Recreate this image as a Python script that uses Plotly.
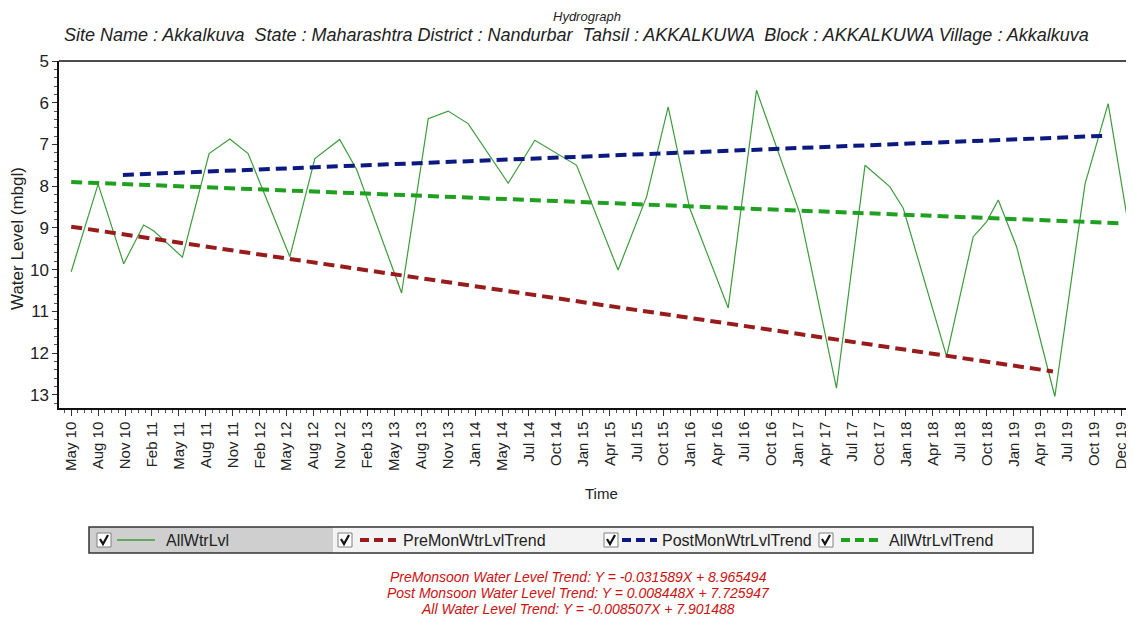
import plotly.graph_objects as go

# ---------------- data ----------------
tick_labels = ["May 10", "Aug 10", "Nov 10", "Feb 11", "May 11", "Aug 11", "Nov 11", "Feb 12",
               "May 12", "Aug 12", "Nov 12", "Feb 13", "May 13", "Aug 13", "Nov 13", "Jan 14",
               "May 14", "Jul 14", "Oct 14", "Jan 15", "Apr 15", "Jul 15", "Oct 15", "Jan 16",
               "Apr 16", "Jul 16", "Oct 16", "Jan 17", "Apr 17", "Jul 17", "Oct 17", "Jan 18",
               "Apr 18", "Jul 18", "Oct 18", "Jan 19", "Apr 19", "Jul 19", "Oct 19", "Dec 19"]

# observed water level (x in tick-period units, y in m bgl)
all_x = [0.00, 1.00, 1.95, 2.69, 3.06, 4.13, 5.12, 5.89, 6.57, 8.12, 9.05, 9.97, 10.6,
         12.27, 13.26, 14.0, 14.74, 16.23, 17.22, 18.77, 20.31, 21.37, 22.17, 22.97, 24.4,
         25.45, 27.06, 28.42, 29.48, 30.4, 30.9, 32.51, 33.5, 34.0, 34.43, 35.11, 36.53,
         37.65, 38.51, 39.19]
all_y = [10.05, 7.95, 9.86, 8.93, 9.07, 9.70, 7.22, 6.87, 7.22, 9.69, 7.34, 6.88, 7.6,
         10.56, 6.38, 6.20, 6.50, 7.93, 6.90, 7.50, 10.01, 8.25, 6.10, 8.53, 10.92,
         5.70, 8.65, 12.84, 7.50, 8.01, 8.53, 12.08, 9.21, 8.85, 8.33, 9.45, 13.04,
         7.95, 6.02, 8.65]

pre_x = [0.0, 36.46]
pre_y = [8.97, 12.44]
post_x = [1.92, 38.5]
post_y = [7.73, 6.79]
alltr_x = [0.0, 39.06]
alltr_y = [7.90, 8.89]

series_names = ["AllWtrLvl", "PreMonWtrLvlTrend", "PostMonWtrLvlTrend", "AllWtrLvlTrend"]
eq_lines = ["PreMonsoon Water Level Trend: Y = -0.031589X + 8.965494",
            "Post Monsoon Water Level Trend: Y = 0.008448X + 7.725947",
            "All Water Level Trend: Y = -0.008507X + 7.901488"]

# ---------------- styling ----------------
OFF = 8                      # page body margin of the html page
W, H = 1134 - OFF, 627 - OFF
PL, PT, PR, PB = 59, 61, 1134, 408   # plot area in window pixels
ML, MT = PL - OFF, PT - OFF
MR = (1134 - OFF) - (PR - OFF)
MB = H - (PB - OFF)
PW, PH = W - ML - MR, H - MT - MB

def px(x):
    return (x - OFF - ML) / PW

def py(y):
    return (H - MB - (y - OFF)) / PH

C_ALL = "#3c9c3c"
C_PRE = "#981c1c"
C_POST = "#0c1a80"
C_ALLTR = "#20a020"
FONT = "Liberation Sans"
DASH = "11px,6px"

fig = go.Figure()
fig.add_trace(go.Scatter(x=all_x, y=all_y, mode="lines", name=series_names[0],
                         line=dict(color=C_ALL, width=1.2)))
fig.add_trace(go.Scatter(x=pre_x, y=pre_y, mode="lines", name=series_names[1],
                         line=dict(color=C_PRE, width=4, dash=DASH)))
fig.add_trace(go.Scatter(x=post_x, y=post_y, mode="lines", name=series_names[2],
                         line=dict(color=C_POST, width=4, dash=DASH)))
fig.add_trace(go.Scatter(x=alltr_x, y=alltr_y, mode="lines", name=series_names[3],
                         line=dict(color=C_ALLTR, width=4, dash=DASH)))

fig.update_layout(
    width=W, height=H,
    margin=dict(l=ML, r=MR, t=MT, b=MB, pad=0, autoexpand=False),
    paper_bgcolor="white", plot_bgcolor="white",
    showlegend=False,
    font=dict(family=FONT, color="#222222"),
)

fig.update_xaxes(
    automargin=False,
    range=[-0.453, 39.47], tickmode="array", tickvals=list(range(len(tick_labels))),
    ticktext=tick_labels, tickangle=-90, tickfont=dict(size=15, color="#222"),
    showgrid=False, zeroline=False, showline=True, linecolor="#111", linewidth=1.5,
    ticks="outside", ticklen=6, tickcolor="#333",
    minor=dict(dtick=0.25, tick0=0, ticks="outside", ticklen=3, tickcolor="#555"),
)
fig.update_yaxes(
    automargin=False,
    range=[13.316, 5], tickmode="array", tickvals=list(range(5, 14)),
    tickfont=dict(size=17, color="#222"),
    showgrid=False, zeroline=False, showline=True, linecolor="#111", linewidth=1.5,
    ticks="outside", ticklen=5, tickcolor="#333",
    minor=dict(dtick=0.2, ticks="outside", ticklen=3, tickcolor="#555"),
)

shapes = []
annotations = []

# top frame line
shapes.append(dict(type="line", xref="paper", yref="paper", x0=0, x1=1, y0=1, y1=1,
                   line=dict(color="#111", width=1.5)))

# titles
annotations.append(dict(text="<i>Hydrograph</i>", xref="paper", yref="paper",
                        x=px(587), y=py(8), showarrow=False, xanchor="center", yanchor="top",
                        borderpad=0, font=dict(size=13, family=FONT, color="#222")))
annotations.append(dict(text="<i>Site Name : Akkalkuva  State : Maharashtra District : Nandurbar  Tahsil : AKKALKUWA  Block : AKKALKUWA Village : Akkalkuva</i>",
                        xref="paper", yref="paper", x=px(576), y=py(35), showarrow=False,
                        xanchor="center", yanchor="middle",
                        font=dict(size=18, family=FONT, color="#222")))
annotations.append(dict(text="Water Level (mbgl)", xref="paper", yref="paper",
                        x=px(17), y=py(239), textangle=-90, showarrow=False,
                        xanchor="center", yanchor="middle",
                        font=dict(size=17, family=FONT, color="#222")))
annotations.append(dict(text="Time", xref="paper", yref="paper",
                        x=px(601), y=py(493), showarrow=False,
                        xanchor="center", yanchor="middle",
                        font=dict(size=15, family=FONT, color="#222")))

# legend box
LB_X0, LB_X1, LB_Y0, LB_Y1 = 89, 1033, 527, 553
shapes.append(dict(type="rect", xref="paper", yref="paper", x0=px(LB_X0), x1=px(LB_X1),
                   y0=py(LB_Y1), y1=py(LB_Y0), fillcolor="#f3f3f3", line=dict(width=0)))
shapes.append(dict(type="rect", xref="paper", yref="paper", x0=px(LB_X0), x1=px(333),
                   y0=py(LB_Y1), y1=py(LB_Y0), fillcolor="#cfcfcf", line=dict(width=0)))
shapes.append(dict(type="rect", xref="paper", yref="paper", x0=px(LB_X0), x1=px(LB_X1),
                   y0=py(LB_Y1), y1=py(LB_Y0), fillcolor="rgba(0,0,0,0)",
                   line=dict(color="#333", width=1.5)))

LY = 540
items = [
    dict(cb=97, l0=117, l1=155, tx=164, color=C_ALL, dash="solid", width=1.5),
    dict(cb=338, l0=360, l1=396, tx=401, color=C_PRE, dash="9px,5px", width=4),
    dict(cb=604, l0=622, l1=657, tx=660, color=C_POST, dash="9px,5px", width=4),
    dict(cb=819, l0=841, l1=879, tx=887, color=C_ALLTR, dash="9px,5px", width=4),
]
for it, name in zip(items, series_names):
    cb = it["cb"]
    shapes.append(dict(type="rect", xref="paper", yref="paper", x0=px(cb), x1=px(cb + 14),
                       y0=py(LY + 7), y1=py(LY - 7), fillcolor="white",
                       line=dict(color="#808080", width=1)))
    path = "M {} {} L {} {} L {} {}".format(px(cb + 3), py(LY - 1), px(cb + 6), py(LY + 4),
                                             px(cb + 11), py(LY - 5))
    shapes.append(dict(type="path", xref="paper", yref="paper", path=path,
                       line=dict(color="#111", width=2.2)))
    shapes.append(dict(type="line", xref="paper", yref="paper", x0=px(it["l0"]), x1=px(it["l1"]),
                       y0=py(LY), y1=py(LY),
                       line=dict(color=it["color"], width=it["width"], dash=it["dash"])))
    annotations.append(dict(text=name, xref="paper", yref="paper", x=px(it["tx"]), y=py(LY),
                            showarrow=False, xanchor="left", yanchor="middle",
                            font=dict(size=16, family=FONT, color="#222")))

# trend equations
for i, (txt, yy) in enumerate(zip(eq_lines, [577, 593, 609])):
    annotations.append(dict(text="<i>" + txt + "</i>", xref="paper", yref="paper",
                            x=px(578), y=py(yy), showarrow=False, xanchor="center",
                            yanchor="middle", font=dict(size=14, family=FONT, color="#cc1111")))

fig.update_layout(shapes=shapes, annotations=annotations)
fig.write_html("out.html")
